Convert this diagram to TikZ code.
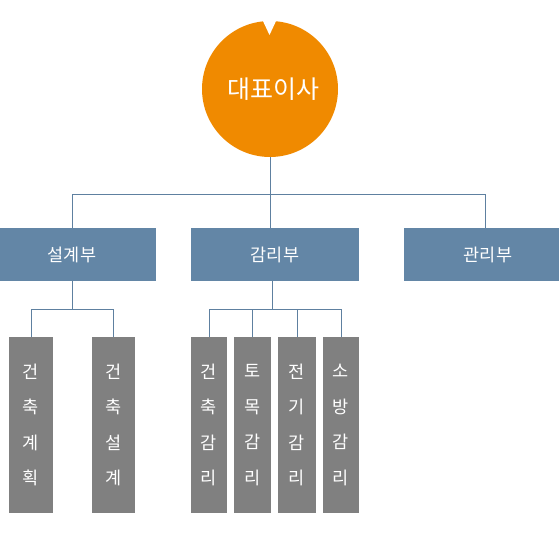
\documentclass[tikz,border=0pt]{standalone}
\usepackage{fontspec}
\setmainfont{Noto Sans CJK KR}
\definecolor{ceoorange}{RGB}{240,138,0}
\definecolor{deptblue}{RGB}{99,134,166}
\definecolor{linkblue}{RGB}{94,128,160}
\definecolor{teamgray}{RGB}{128,128,128}
\begin{document}
\begin{tikzpicture}[x=1pt,y=-1pt,
  ceobox/.style={circle,fill=ceoorange,text=white,minimum size=136pt,inner sep=0pt,
    font=\fontsize{25}{28}\selectfont},
  deptbox/.style={rectangle,fill=deptblue,text=white,minimum width=168pt,minimum height=53pt,
    inner sep=0pt,font=\fontsize{17.5}{20}\selectfont},
  teambox/.style={rectangle,fill=teamgray,text=white,minimum height=176pt,inner sep=0pt,
    align=center,font=\fontsize{17.5}{35.6}\selectfont},
  link/.style={draw=linkblue,line width=1pt}]
\useasboundingbox (0,0) rectangle (559,535);
% CEO
\node[ceobox] (ceo) at (270,89) {\hspace{7pt}대표이사};
\fill[white] (262,19) -- (277,19) -- (269.5,35) -- cycle;
% departments
\node[deptbox] (s) at (72,254.5) {설계부};
\node[deptbox] (g) at (275,254.5) {감리부};
\node[deptbox] (k) at (488,254.5) {관리부};
% teams
\node[teambox,minimum width=44pt] (t1) at (31,425) {건\\축\\계\\획};
\node[teambox,minimum width=43pt] (t2) at (113.5,425) {건\\축\\설\\계};
\node[teambox,minimum width=36pt] (m1) at (209,425) {건\\축\\감\\리};
\node[teambox,minimum width=37pt] (m2) at (252.5,425) {토\\목\\감\\리};
\node[teambox,minimum width=38pt] (m3) at (297,425) {전\\기\\감\\리};
\node[teambox,minimum width=36pt] (m4) at (341,425) {소\\방\\감\\리};
% connectors
\draw[link] (ceo.south) -- ++(0,37) coordinate (b0);
\draw[link] (s.north) |- (b0) -| ([xshift=-3pt]k.north);
\draw[link] (b0) -- (b0 |- g.north);
\draw[link] (s.south) -- ++(0,28) coordinate (b1);
\draw[link] (t1.north) |- (b1) -| (t2.north);
\draw[link] ([xshift=-3pt]g.south) -- ++(0,28) coordinate (b2);
\draw[link] (m1.north) |- (b2) -| (m4.north);
\draw[link] (m2.north) -- (m2.north |- b2);
\draw[link] (m3.north) -- (m3.north |- b2);
\end{tikzpicture}
\end{document}
